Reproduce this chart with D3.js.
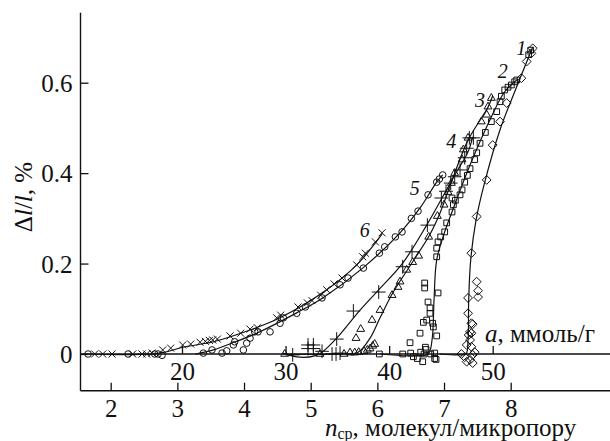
<!DOCTYPE html>
<html>
<head>
<meta charset="utf-8">
<script src="https://cdn.jsdelivr.net/npm/d3@7"></script>
<style>
  body { margin: 0; background: #fff; }
  svg { display: block; }
  text { font-family: "Liberation Serif", "Times New Roman", serif; fill: #111; }
</style>
</head>
<body>
<svg id="chart" width="610" height="441"></svg>
<script>
// tick values
const nTicks = [2, 3, 4, 5, 6, 7, 8];
const aTicks = [20, 30, 40, 50];
const yTicks = [0, 0.2, 0.4, 0.6];

// markers, [n, dl/l]
const s1 = [[7.26,0],[7.31,-0.007],[7.34,-0.017],[7.39,-0.013],[7.43,-0.002],[7.46,0.004],[7.43,-0.02],
  [7.41,0.016],[7.34,0.02],[7.39,0.031],[7.37,0.042],[7.41,0.046],[7.43,0.066],[7.39,0.049],[7.41,0.068],
  [7.36,0.09],[7.36,0.124],[7.51,0.126],[7.51,0.14],[7.49,0.16],[7.41,0.223],[7.49,0.304],[7.64,0.385],
  [7.73,0.462],[7.84,0.514],[7.94,0.555],[8.16,0.61],[8.24,0.647],[8.31,0.665],[8.33,0.676]];
const s2 = [[6.03,0],[6.38,0],[6.54,-0.006],[6.5,0.002],[6.6,-0.01],[6.65,0.004],[6.7,0],[6.68,-0.017],
  [6.73,0.01],[6.8,0],[6.86,-0.01],[6.86,0.002],[6.88,-0.012],[6.49,0.025],[6.64,0.046],[6.72,0.015],
  [6.84,0.06],[6.89,0.04],[6.69,0.07],[6.71,0.157],[6.71,0.146],[6.91,0.135],[6.76,0.115],[6.79,0.102],
  [6.79,0.09],[6.74,0.075],[6.83,0.068],[6.89,0.215],[6.89,0.234],[6.91,0.248],[6.95,0.259],[7.01,0.27],
  [7.04,0.29],[7.12,0.314],[7.14,0.33],[7.12,0.345],[7.17,0.34],[7.24,0.352],[7.27,0.363],[7.31,0.38],
  [7.35,0.395],[7.39,0.41],[7.46,0.43],[7.49,0.445],[7.54,0.466],[7.62,0.49],[7.71,0.514],[7.79,0.536],
  [7.84,0.558],[7.86,0.57],[7.91,0.584],[7.96,0.59],[8.01,0.595],[8.06,0.602],[8.09,0.606],[8.27,0.662],[8.3,0.672]];
const s3 = [[4.61,0],[5.14,0],[5.5,0],[5.59,0.003],[5.66,0.003],[5.72,0.004],[5.8,0.006],[5.85,0.009],
  [5.89,0.012],[5.93,0.018],[5.96,0.022],[5.68,0.035],[5.75,0.055],[5.92,0.075],[6.04,0.097],[6.22,0.13],
  [6.31,0.148],[6.34,0.16],[6.44,0.186],[6.53,0.203],[6.62,0.217],[6.77,0.259],[6.9,0.305],[7.0,0.33],
  [7.06,0.358],[7.11,0.378],[7.16,0.4],[7.27,0.43],[7.29,0.452],[7.36,0.478],[7.56,0.514],[7.64,0.529],
  [7.66,0.547],[7.71,0.566]];
const s4 = [[4.73,-0.002],[4.96,0.02],[5.04,0.02],[4.96,0.012],[5.04,0.012],[5.17,0.006],[5.32,0],[5.38,0],
  [5.44,0.002],[5.39,0.033],[5.64,0.095],[6.02,0.137],[6.38,0.193],[6.52,0.226],[6.75,0.285],[6.96,0.345],
  [7.03,0.36],[7.1,0.378],[7.16,0.392],[7.24,0.407],[7.31,0.434],[7.34,0.455],[7.38,0.478],[7.44,0.478]];
const s5 = [[1.66,0],[2.26,0],[2.66,0],[2.71,0],[2.77,-0.003],[3.39,0.002],[3.52,0.009],[3.67,0.002],
  [3.74,0.007],[3.84,0.02],[3.86,0.027],[3.99,0.009],[4.04,0.024],[4.09,0.035],[4.16,0.049],[4.21,0.049],
  [4.39,0.049],[4.54,0.068],[4.59,0.08],[4.79,0.09],[4.92,0.104],[5.17,0.124],[5.44,0.153],[5.56,0.168],
  [5.79,0.19],[6.03,0.223],[6.11,0.237],[6.27,0.259],[6.37,0.27],[6.51,0.3],[6.61,0.316],[6.76,0.352],
  [6.89,0.38],[6.93,0.387],[6.98,0.396]];
const s6 = [[1.76,0],[1.88,0],[2.02,0],[2.33,0],[2.47,0],[2.54,0],[2.62,0.002],[2.78,0.009],[2.9,0.013],
  [3.08,0.02],[3.2,0.022],[3.34,0.026],[3.42,0.028],[3.48,0.03],[3.53,0.031],[3.6,0.033],[3.79,0.04],
  [3.95,0.046],[4.09,0.055],[4.2,0.058],[4.49,0.08],[4.55,0.086],[4.81,0.104],[4.95,0.113],[5.02,0.118],
  [5.15,0.13],[5.24,0.142],[5.35,0.155],[5.47,0.168],[5.69,0.197],[5.78,0.215],[5.82,0.223],[5.97,0.248],
  [6.07,0.268]];

// fitted curves drawn through the markers
const fit1 = [[6.94,0],[7.24,-0.002],[7.33,0],[7.36,0.031],[7.37,0.119],[7.4,0.208],[7.48,0.296],
  [7.6,0.374],[7.84,0.496],[8.06,0.58],[8.33,0.679]];
const fit2 = [[6.04,0],[6.49,-0.004],[6.76,0],[6.82,0.031],[6.85,0.119],[6.89,0.208],[7.01,0.27],
  [7.16,0.33],[7.39,0.418],[7.69,0.518],[7.91,0.58],[8.11,0.608]];
const fit3 = [[4.58,0],[5.44,0],[5.71,0.004],[5.89,0.035],[6.04,0.08],[6.23,0.135],[6.53,0.204],
  [6.79,0.265],[6.94,0.312],[7.16,0.4],[7.36,0.473],[7.66,0.546],[7.73,0.571]];
const fit4 = [[4.58,0.002],[4.84,-0.007],[5.06,-0.004],[5.17,0.004],[5.39,0.035],[5.74,0.097],
  [6.02,0.142],[6.38,0.201],[6.74,0.285],[6.97,0.345],[7.19,0.403],[7.36,0.447],[7.43,0.48]];
const fit5 = [[3.27,0],[3.54,0.009],[3.87,0.027],[4.19,0.046],[4.79,0.091],[5.18,0.124],[5.78,0.19],
  [6.34,0.268],[6.64,0.323],[6.89,0.38],[6.98,0.396]];
const fit6 = [[1.57,0],[2.74,0.002],[3.08,0.015],[3.54,0.027],[4.09,0.053],[4.54,0.08],[5.24,0.142],
  [5.69,0.197],[6.07,0.265]];

const curveNames = ["1", "2", "3", "4", "5", "6"];
const curveNameAt = [[8.16,0.676],[7.88,0.625],[7.54,0.562],[7.11,0.47],[6.56,0.367],[5.81,0.274]];

const svg = d3.select("#chart");
const W = 610;
const x = d3.scaleLinear().domain([2, 8]).range([110.7, 510.7]);
const xa = d3.scaleLinear().domain([20, 50]).range([182, 492.7]);
const y = d3.scaleLinear().domain([0, 0.6]).range([354, 82.7]);
const axisLeft = 80.5, axisBottom = 390.7, axisTop = 12.7;
const serif = "'Liberation Serif', 'Times New Roman', serif";

// frame lines
svg.append("line").attr("x1", axisLeft).attr("x2", axisLeft).attr("y1", axisTop).attr("y2", axisBottom)
  .attr("stroke", "#111").attr("stroke-width", 1.4);
svg.append("line").attr("x1", axisLeft).attr("x2", W).attr("y1", axisBottom).attr("y2", axisBottom)
  .attr("stroke", "#111").attr("stroke-width", 1.4);
svg.append("line").attr("x1", axisLeft).attr("x2", W).attr("y1", y(0)).attr("y2", y(0))
  .attr("stroke", "#111").attr("stroke-width", 1.3);

// y axis
const gy = svg.append("g").attr("transform", `translate(${axisLeft},0)`)
  .call(d3.axisRight(y).tickValues(yTicks).tickSize(8).tickFormat(d => d === 0 ? "0" : d3.format(".1f")(d)));
gy.attr("font-family", null);
gy.select(".domain").remove();
gy.selectAll(".tick line").attr("stroke", "#111").attr("stroke-width", 1.3);
gy.selectAll(".tick text").attr("x", -8).attr("text-anchor", "end").attr("dy", "0.34em")
  .style("font-size", "25px").style("font-family", serif);

// bottom axis n
const gx = svg.append("g").attr("transform", `translate(0,${axisBottom})`)
  .call(d3.axisTop(x).tickValues(nTicks).tickSize(8).tickFormat(d3.format("d")));
gx.attr("font-family", null);
gx.select(".domain").remove();
gx.selectAll(".tick line").attr("stroke", "#111").attr("stroke-width", 1.3);
gx.selectAll(".tick text").attr("y", 26).attr("dy", 0).attr("text-anchor", "middle")
  .style("font-size", "25px").style("font-family", serif);

// inner axis a
const ga = svg.append("g").attr("transform", `translate(0,${y(0)})`)
  .call(d3.axisTop(xa).tickValues(aTicks).tickSize(8).tickFormat(d3.format("d")));
ga.attr("font-family", null);
ga.select(".domain").remove();
ga.selectAll(".tick line").attr("stroke", "#111").attr("stroke-width", 1.3);
ga.selectAll(".tick text").attr("y", 26).attr("dy", 0).attr("text-anchor", "middle")
  .style("font-size", "25px").style("font-family", serif);

// fitted curves
const line = d3.line().x(d => x(d[0])).y(d => y(d[1])).curve(d3.curveCatmullRom.alpha(0.5));
[fit1, fit2, fit3, fit4, fit5, fit6].forEach(f => {
  svg.append("path").attr("d", line(f)).attr("fill", "none")
    .attr("stroke", "#111").attr("stroke-width", 1.2);
});

// markers
const series = [
  {pts: s1, sym: d3.symbolDiamond2, size: 50},
  {pts: s2, sym: d3.symbolSquare2, size: 42},
  {pts: s3, sym: d3.symbolTriangle2, size: 44},
  {pts: s4, sym: d3.symbolPlus, size: 64},
  {pts: s5, sym: d3.symbolCircle, size: 34},
  {pts: s6, sym: d3.symbolTimes, size: 34},
];
series.forEach(s => {
  svg.append("g").selectAll("path").data(s.pts).join("path")
    .attr("transform", d => `translate(${x(d[0])},${y(d[1])})`)
    .attr("d", d3.symbol(s.sym, s.size))
    .attr("fill", "none").attr("stroke", "#111").attr("stroke-width", 1);
});

// curve numbers
svg.append("g").selectAll("text").data(curveNames).join("text")
  .attr("x", (d, i) => x(curveNameAt[i][0]))
  .attr("y", (d, i) => y(curveNameAt[i][1]) + 7)
  .attr("text-anchor", "middle")
  .style("font-size", "20px").style("font-style", "italic")
  .text(d => d);

// y label
const yl = svg.append("text").attr("transform", "translate(32,197) rotate(-90)")
  .attr("text-anchor", "middle").style("font-size", "25px");
yl.append("tspan").text("Δ");
yl.append("tspan").style("font-style", "italic").text("l");
yl.append("tspan").text("/");
yl.append("tspan").style("font-style", "italic").text("l");
yl.append("tspan").text(", %");

// a label
const al = svg.append("text").attr("x", 485).attr("y", 342).style("font-size", "25px");
al.append("tspan").style("font-style", "italic").text("a");
al.append("tspan").text(", ммоль/г");

// n label
const nl = svg.append("text").attr("x", 325).attr("y", 436).style("font-size", "25px");
nl.append("tspan").style("font-style", "italic").text("n");
nl.append("tspan").attr("dy", 3).style("font-size", "16px").text("ср");
nl.append("tspan").attr("dy", -3).text(", молекул/микропору");
</script>
</body>
</html>
